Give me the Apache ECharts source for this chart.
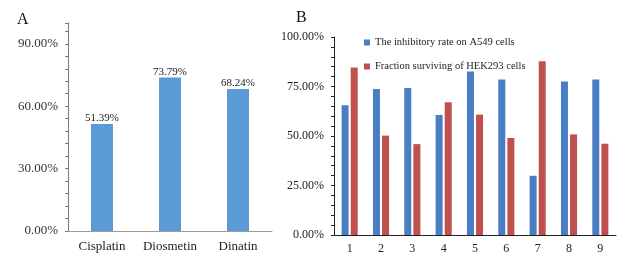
<!DOCTYPE html>
<html>
<head>
<meta charset="utf-8">
<script src="https://cdn.jsdelivr.net/npm/echarts@6/dist/echarts.min.js"></script>
<style>
	html, body { margin: 0; padding: 0; background: #fff; }
	#chart { width: 625px; height: 261px; }
</style>
</head>
<body>
<div id="chart"></div>
<script>
// panel A
const catsA = ["Cisplatin", "Diosmetin", "Dinatin"];
const valsA = [51.39, 73.79, 68.24];
const tickLabelsA = [0, 30, 60, 90];
// panel B
const catsB = ["1", "2", "3", "4", "5", "6", "7", "8", "9"];
const inhibA549 = [65.5, 73.8, 74.2, 60.6, 82.6, 78.5, 29.9, 77.5, 78.5];
const survHEK293 = [84.6, 50.2, 45.9, 67.1, 60.8, 49.0, 87.8, 50.8, 46.1];
const tickLabelsB = [0, 25, 50, 75, 100];
const seriesNamesB = ["The inhibitory rate on A549 cells", "Fraction surviving of HEK293 cells"];

const serif = "Liberation Serif";
const pct = (list) => (v) => (list.some((t) => Math.abs(t - v) < 1e-6) ? v.toFixed(2) + "%" : "");

let myChart = echarts.init(document.getElementById("chart"), null, { renderer: "canvas" });
let option = {
	animation: false,
	textStyle: { fontFamily: serif },
	title: [
		{ text: "A", left: 12, top: 7, textStyle: { fontFamily: serif, fontSize: 16, fontWeight: "normal", color: "#111" } },
		{ text: "B", left: 291, top: 5, textStyle: { fontFamily: serif, fontSize: 16, fontWeight: "normal", color: "#111" } },
	],
	legend: {
		orient: "vertical",
		left: 359,
		top: 32,
		itemWidth: 6,
		itemHeight: 6,
		itemGap: 13,
		icon: "rect",
		data: seriesNamesB,
		textStyle: { fontFamily: serif, fontSize: 10.5, color: "#222" },
	},
	grid: [
		{ left: 68, top: 23, width: 204, height: 208 },
		{ left: 334, top: 37, width: 282, height: 198 },
	],
	xAxis: [
		{
			gridIndex: 0,
			type: "category",
			data: catsA,
			axisLine: { lineStyle: { color: "#9a9a9a", width: 1 } },
			axisTick: { show: false },
			axisLabel: { interval: 0, hideOverlap: false, margin: 9, fontFamily: serif, fontSize: 13, color: "#222" },
		},
		{
			gridIndex: 1,
			type: "category",
			data: catsB,
			axisLine: { lineStyle: { color: "#222", width: 1 } },
			axisTick: { show: false },
			axisLabel: { interval: 0, margin: 8, fontFamily: serif, fontSize: 12, color: "#222" },
		},
	],
	yAxis: [
		{
			gridIndex: 0,
			type: "value",
			min: 0,
			max: 100,
			interval: 6,
			axisLine: { show: true, lineStyle: { color: "#777", width: 1 } },
			axisTick: { show: true, length: 3, lineStyle: { color: "#777" } },
			splitLine: { show: false },
			axisLabel: { margin: 10, fontFamily: serif, fontSize: 13, color: "#333", formatter: pct(tickLabelsA) },
		},
		{
			gridIndex: 1,
			type: "value",
			min: 0,
			max: 100,
			interval: 5,
			axisLine: { show: true, lineStyle: { color: "#222", width: 1 } },
			axisTick: { show: true, length: 3, lineStyle: { color: "#222" } },
			splitLine: { show: false },
			axisLabel: { margin: 10, fontFamily: serif, fontSize: 12, color: "#222", formatter: pct(tickLabelsB) },
		},
	],
	series: [
		{
			type: "bar",
			xAxisIndex: 0,
			yAxisIndex: 0,
			data: valsA,
			barWidth: 22,
			itemStyle: { color: "#5b9bd5" },
			label: {
				show: true,
				position: "top",
				distance: 0,
				fontFamily: serif,
				fontSize: 11,
				color: "#222",
				formatter: (p) => p.value.toFixed(2) + "%",
			},
		},
		{
			name: seriesNamesB[0],
			type: "bar",
			xAxisIndex: 1,
			yAxisIndex: 1,
			data: inhibA549,
			barWidth: 7,
			barGap: "30%",
			itemStyle: { color: "#4a7ec4" },
		},
		{
			name: seriesNamesB[1],
			type: "bar",
			xAxisIndex: 1,
			yAxisIndex: 1,
			data: survHEK293,
			barWidth: 7,
			barGap: "30%",
			itemStyle: { color: "#c0504d" },
		},
	],
};
myChart.setOption(option);
</script>
</body>
</html>
